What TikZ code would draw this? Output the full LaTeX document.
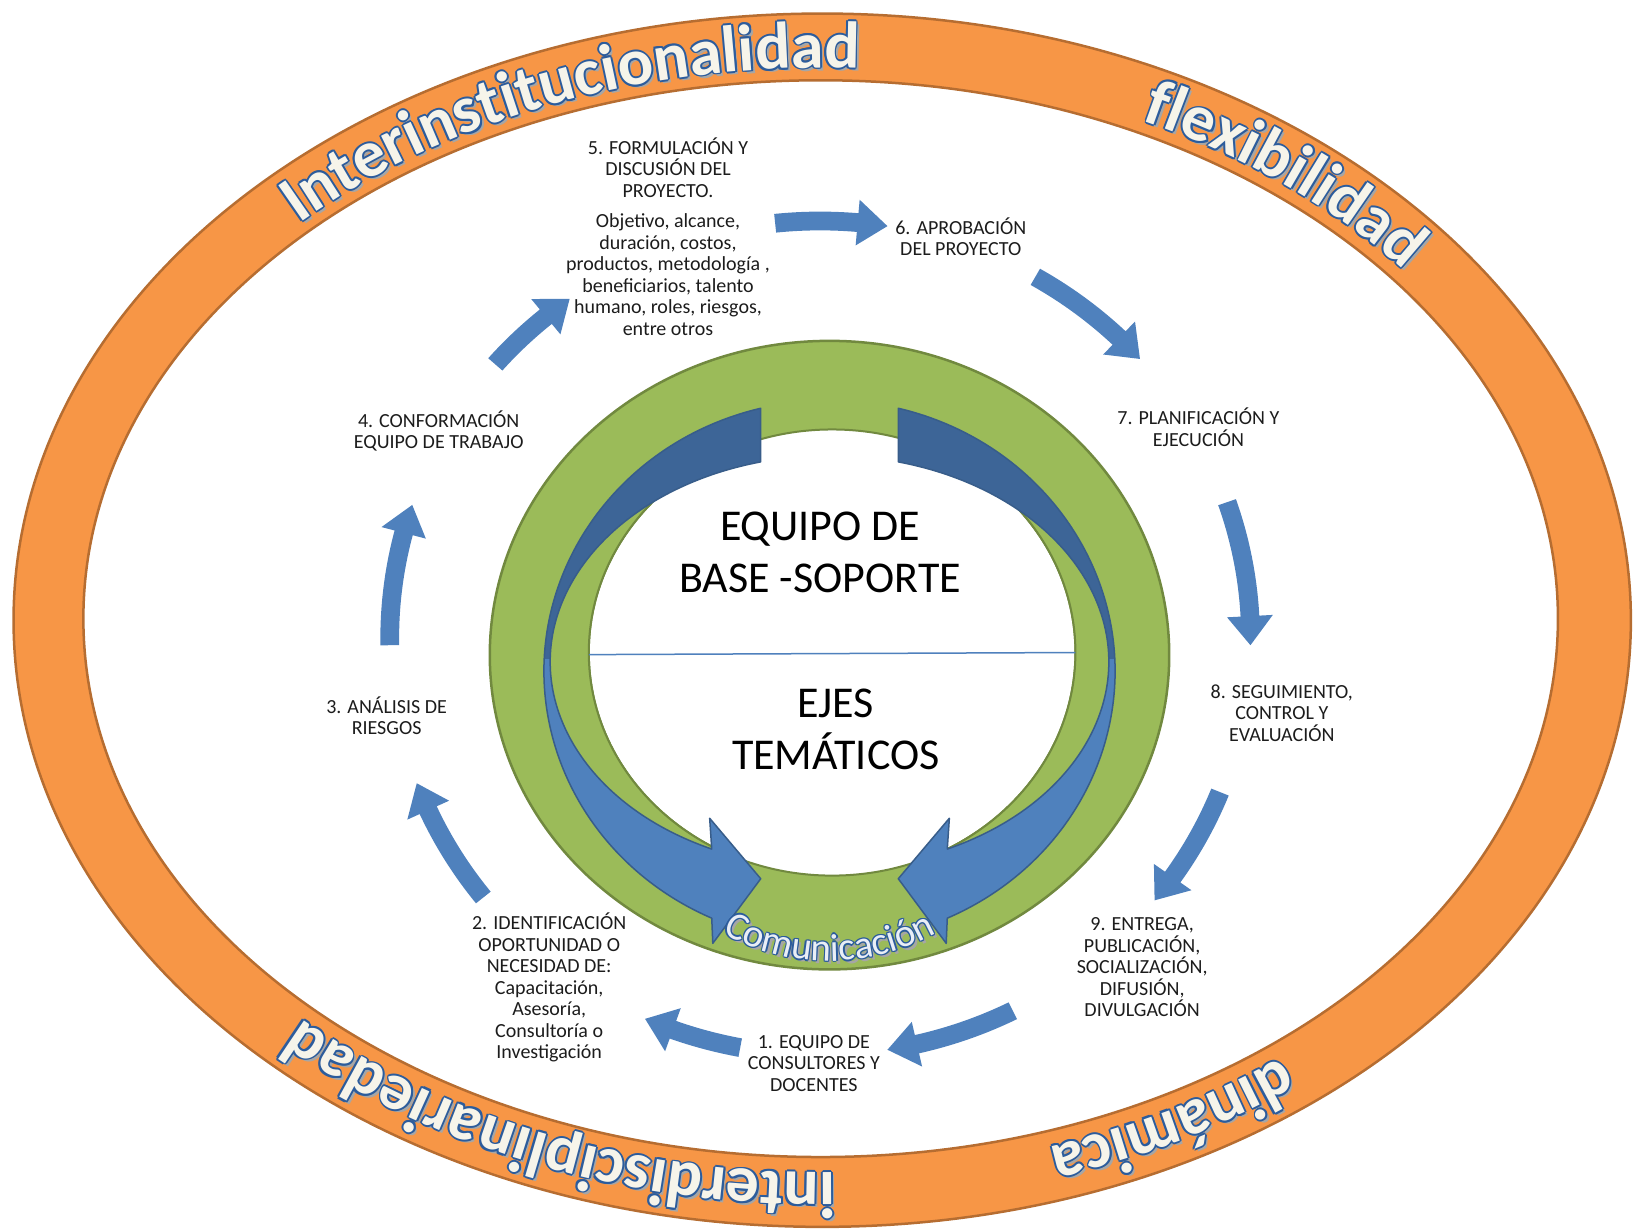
\documentclass[tikz,border=0pt]{standalone}
\usepackage{fontspec}
\setmainfont{Carlito}
\usetikzlibrary{decorations.text}
\definecolor{orfill}{HTML}{F79646}
\definecolor{ordraw}{HTML}{B66D31}
\definecolor{grfill}{HTML}{9BBB59}
\definecolor{grdraw}{HTML}{71893F}
\definecolor{blfill}{HTML}{4F81BD}
\definecolor{bldark}{HTML}{3D6597}
\definecolor{bldraw}{HTML}{385D8A}
\definecolor{wordfill}{HTML}{F6F4EA}
\definecolor{wordline}{HTML}{2C5C9C}
\definecolor{comfill}{HTML}{E9EEF6}
\definecolor{txt}{HTML}{1C1C1C}

\tikzset{
  lbl/.style={align=center, text=txt, font=\fontsize{20}{21.5}\selectfont, inner sep=0pt},
  bigtxt/.style={align=center, text=black, font=\fontsize{44}{52}\selectfont, inner sep=0pt},
}

% WordArt-like word along an elliptic arc: shadow, blue outline copies, light fill
% #1 centre, #2 rx, #3 ry, #4 start angle, #5 end angle, #6 font, #7 text, #8 outline offset, #9 fill colour
\newcommand{\arcword}[9]{%
  \begin{scope}[shift={(3,3)}]
    \path[decorate,decoration={text along path,text align=center,text color=black!35,text={|#6|#7}}]
      ([shift={#1}]#4:#2 and #3) arc[start angle=#4,end angle=#5,x radius=#2,y radius=#3];
  \end{scope}
  \foreach \k in {0,45,...,315}{%
    \begin{scope}[shift={(\k:#8)}]
      \path[decorate,decoration={text along path,text align=center,text color=wordline,text={|#6|#7}}]
        ([shift={#1}]#4:#2 and #3) arc[start angle=#4,end angle=#5,x radius=#2,y radius=#3];
    \end{scope}}
  \path[decorate,decoration={text along path,text align=center,text color=#9,text={|#6|#7}}]
    ([shift={#1}]#4:#2 and #3) arc[start angle=#4,end angle=#5,x radius=#2,y radius=#3];
}

% cycle arrow: #1 tail angle, #2 tip angle
\newcommand{\cyc}[2]{%
  \pgfmathsetmacro{\hb}{#2-4}%
  \fill[blfill] ([shift={(787,612)}]#1:422 and 409)
    arc[start angle=#1,end angle=\hb,x radius=422,y radius=409]
    -- ([shift={(787,612)}]\hb:435 and 422)
    -- ([shift={(787,612)}]#2:413 and 400)
    -- ([shift={(787,612)}]\hb:391 and 378)
    -- ([shift={(787,612)}]\hb:404 and 391)
    arc[start angle=\hb,end angle=#1,x radius=404,y radius=391] -- cycle;}

% big inner arrow, #1 = +1 (left) or -1 (right)
\newcommand{\bigarrow}[1]{%
\begin{scope}[shift={(796,0)}, xscale=#1]
  \def\arrowpath{([shift={(0,644)}]256.06:274 and 260)
    arc[start angle=256.06,end angle=114.36,x radius=274,y radius=260]
    -- (-112,905) -- (-66,843) -- (-115,785)
    -- ([shift={(0,635)}]114.94:268 and 198)
    arc[start angle=114.94,end angle=255.74,x radius=268,y radius=198] -- cycle}
  \fill[blfill] \arrowpath;
  \begin{scope}
    \clip (-300,300) rectangle (300,632);
    \fill[bldark] \arrowpath;
  \end{scope}
  \draw[bldraw, line width=1.5, line join=round] \arrowpath;
\end{scope}}

\begin{document}
\begin{tikzpicture}[x=1.042092pt, y=-1.042373pt]
\useasboundingbox (0,0) rectangle (1568,1180);

% ---- orange ring ----
\fill[orfill, even odd rule] (789,595) ellipse [x radius=776, y radius=582]
  (787.5,593.5) ellipse [x radius=707.5, y radius=516.5];
\draw[ordraw, line width=2.5] (789,595) ellipse [x radius=776, y radius=582];
\draw[ordraw, line width=2.5] (787.5,593.5) ellipse [x radius=707.5, y radius=516.5];

\arcword{(789,595)}{721}{530}{208}{288}{\bfseries\fontsize{66}{66}\selectfont}{Interinstitucionalidad}{1.8}{wordfill}
\arcword{(789,595)}{721}{530}{284}{334}{\bfseries\fontsize{66}{66}\selectfont}{flexibilidad}{1.8}{wordfill}
\arcword{(789,595)}{721}{530}{82}{142}{\bfseries\fontsize{66}{66}\selectfont}{interdisciplinariedad}{1.8}{wordfill}
\arcword{(789,595)}{721}{530}{44}{80}{\bfseries\fontsize{66}{66}\selectfont}{dinámica}{1.8}{wordfill}

% ---- cycle arrows ----
\cyc{264}{279}
\cyc{300}{318}
\cyc{341}{361}
\cyc{21.7}{39}
\cyc{63.4}{81}
\cyc{100.7}{114}
\cyc{141.5}{159.6}
\cyc{179}{198.6}
\cyc{221}{234.4}

% ---- green ring ----
\fill[grfill] (796,628.5) ellipse [x radius=326, y radius=301.5];
\draw[grdraw, line width=2.5] (796,628.5) ellipse [x radius=326, y radius=301.5];
\filldraw[fill=white, draw=grdraw, line width=2] (798.5,626) ellipse [x radius=233.5, y radius=214];
\begin{scope}
  \clip (796,635) ellipse [x radius=268, y radius=198];
  \fill[grfill, even odd rule] (400,300) rectangle (1200,950)
    (798.5,626) ellipse [x radius=233.5, y radius=214];
  \draw[grdraw, line width=2] (798.5,626) ellipse [x radius=233.5, y radius=214];
\end{scope}
\draw[blfill, line width=1.5] (565,628) -- (1032,626);

\bigarrow{1}
\bigarrow{-1}

\arcword{(796,712)}{210}{210}{124}{56}{\fontsize{39}{39}\selectfont}{Comunicación}{1.2}{comfill}

% ---- centre texts ----
\node[bigtxt] (equipo) at (787,530) {EQUIPO DE\\BASE -SOPORTE};
\node[bigtxt] (ejes) at (802,700) {EJES\\TEMÁTICOS};

% ---- step labels ----
\node[lbl] (s5) at (641,227) {5. FORMULACIÓN Y\\DISCUSIÓN DEL\\PROYECTO.\\[9pt]Objetivo, alcance,\\duración, costos,\\productos, metodología ,\\beneficiarios, talento\\humano, roles, riesgos,\\entre otros};
\node[lbl] (s6) at (922,227) {6. APROBACIÓN\\DEL PROYECTO};
\node[lbl] (s7) at (1150,410) {7. PLANIFICACIÓN Y\\EJECUCIÓN};
\node[lbl] (s8) at (1230,684) {8. SEGUIMIENTO,\\CONTROL Y\\EVALUACIÓN};
\node[lbl] (s9) at (1096,928) {9. ENTREGA,\\PUBLICACIÓN,\\SOCIALIZACIÓN,\\DIFUSIÓN,\\DIVULGACIÓN};
\node[lbl] (s1) at (781,1020) {1. EQUIPO DE\\CONSULTORES Y\\DOCENTES};
\node[lbl] (s2) at (527,947.5) {2. IDENTIFICACIÓN\\OPORTUNIDAD O\\NECESIDAD DE:\\Capacitación,\\Asesoría,\\Consultoría o\\Investigación};
\node[lbl] (s3) at (371,686.5) {3. ANÁLISIS DE\\RIESGOS};
\node[lbl] (s4) at (421,413.5) {4. CONFORMACIÓN\\EQUIPO DE TRABAJO};
\end{tikzpicture}
\end{document}
